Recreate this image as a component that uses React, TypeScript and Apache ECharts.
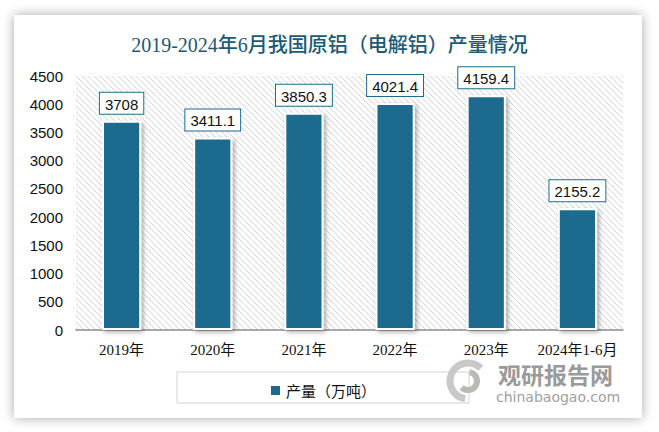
import React, { useEffect, useRef } from "react";
import * as echarts from "echarts";

const categories = ["2019年", "2020年", "2021年", "2022年", "2023年", "2024年1-6月"];
const production = [3708, 3411.1, 3850.3, 4021.4, 4159.4, 2155.2];
const seriesName = "产量（万吨）";
const titleText = "2019-2024年6月我国原铝（电解铝）产量情况";

function makeHatch(): HTMLCanvasElement {
  const c = document.createElement("canvas");
  c.width = 6;
  c.height = 6;
  const ctx = c.getContext("2d")!;
  ctx.fillStyle = "#ffffff";
  ctx.fillRect(0, 0, 6, 6);
  ctx.strokeStyle = "#d6d6d6";
  ctx.lineWidth = 1;
  ctx.beginPath();
  ctx.moveTo(0, 0);
  ctx.lineTo(6, 6);
  ctx.moveTo(-3, 3);
  ctx.lineTo(3, 9);
  ctx.moveTo(3, -3);
  ctx.lineTo(9, 3);
  ctx.stroke();
  return c;
}

export default function App() {
  const ref = useRef<HTMLDivElement>(null);
  useEffect(() => {
    if (!ref.current) return;
    const chart = echarts.init(ref.current, null, { renderer: "svg" });
    const hatch = makeHatch();
    const gridLeft = 76, gridTop = 76, gridRight = 36, gridBottom = 102;
    chart.setOption({
      animation: false,
      backgroundColor: "#ffffff",
      title: {
        text: titleText,
        left: "center",
        top: 30,
        textStyle: {
          fontFamily: "'Liberation Serif', 'Noto Sans CJK SC', serif",
          fontSize: 20,
          fontWeight: 500,
          color: "#1b5a78",
        },
      },
      graphic: [
        {
          type: "rect",
          z: -10,
          shape: { x: 14, y: 15, width: 628, height: 403 },
          style: { fill: "#ffffff", shadowColor: "rgba(0,0,0,0.35)", shadowBlur: 12, shadowOffsetX: 0, shadowOffsetY: 0 },
        },
        {
          type: "rect",
          z: -5,
          shape: { x: gridLeft, y: gridTop, width: 659 - gridLeft - gridRight, height: 432 - gridTop - gridBottom },
          style: { fill: { image: hatch, repeat: "repeat" } as any },
        },
        {
          type: "rect",
          z: -4,
          shape: { x: 177, y: 372, width: 292, height: 31 },
          style: { fill: "transparent", stroke: "#d4d4d4", lineWidth: 1 },
        },
        {
          type: "arc",
          z: 5,
          shape: { cx: 468, cy: 381, r: 18, startAngle: Math.PI * 0.55, endAngle: Math.PI * 1.75 },
          style: { stroke: "#c8c8c8", lineWidth: 7, fill: "none" },
        },
        {
          type: "arc",
          z: 5,
          shape: { cx: 468, cy: 381, r: 9, startAngle: Math.PI * 1.55, endAngle: Math.PI * 0.75 },
          style: { stroke: "#b9bcb4", lineWidth: 6, fill: "none" },
        },
        {
          type: "text",
          z: 5,
          style: {
            text: "观研报告网",
            x: 498,
            y: 362,
            fill: "#9a9a9a",
            font: "bold 23px 'Noto Sans CJK SC', sans-serif",
          },
        },
        {
          type: "text",
          z: 5,
          style: {
            text: "chinabaogao.com",
            x: 496,
            y: 390,
            fill: "#a0a0a0",
            font: "14px 'DejaVu Sans', sans-serif",
          },
        },
      ],
      grid: { left: gridLeft, right: gridRight, top: gridTop, bottom: gridBottom, containLabel: false },
      legend: {
        data: [seriesName],
        left: 264,
        top: 378,
        itemWidth: 11,
        itemHeight: 11,
        itemGap: 6,
        icon: "rect",
        textStyle: { fontSize: 15, color: "#111", fontFamily: "'Noto Sans CJK SC', sans-serif" },
      },
      xAxis: {
        type: "category",
        data: categories,
        axisLine: { lineStyle: { color: "#8c8c8c", width: 1.5 } },
        axisTick: { show: false },
        axisLabel: {
          interval: 0,
          margin: 12,
          fontSize: 15,
          color: "#111",
          fontFamily: "'Liberation Serif', 'Noto Sans CJK SC', serif",
        },
      },
      yAxis: {
        type: "value",
        min: 0,
        max: 4500,
        interval: 500,
        axisLine: { show: false },
        axisTick: { show: false },
        splitLine: { show: false },
        axisLabel: {
          margin: 13,
          fontSize: 15,
          color: "#111",
          fontFamily: "'Liberation Sans', sans-serif",
          formatter: (v: number) => String(v),
        },
      },
      series: [
        {
          name: seriesName,
          type: "bar",
          data: production,
          barWidth: "43%",
          itemStyle: {
            color: "#1c6b8e",
            borderColor: "#ffffff",
            borderWidth: 2,
            shadowColor: "rgba(0,0,0,0.35)",
            shadowBlur: 5,
            shadowOffsetX: 2,
            shadowOffsetY: 2,
          },
          label: {
            show: true,
            position: "top",
            distance: 7,
            fontSize: 15,
            color: "#111",
            fontFamily: "'Liberation Sans', sans-serif",
            backgroundColor: "#ffffff",
            borderColor: "#1c6b8e",
            borderWidth: 1,
            padding: [4, 5, 2, 5],
          },
        },
      ],
    });
    return () => chart.dispose();
  }, []);
  return <div ref={ref} style={{ width: 659, height: 432, position: "absolute", left: 0, top: 0 }} />;
}
